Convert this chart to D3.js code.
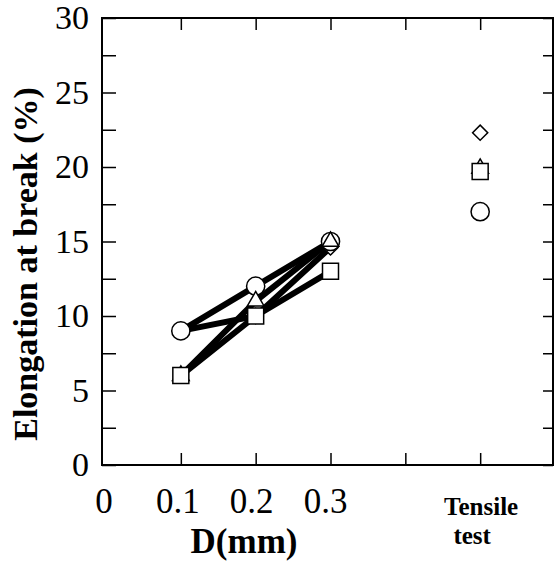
<!DOCTYPE html>
<html lang="en">
<head>
    <meta charset="UTF-8">
    <title>Elongation at break</title>
    <script src="https://d3js.org/d3.v7.min.js"></script>
    <style>
        body { margin: 0; background: #fff; }
        text { font-family: "Liberation Serif", "Times New Roman", serif; fill: #000; }
    </style>
</head>
<body>
    <script>
        // elongation at break vs D, plus tensile test values on the right
        var w = 554;
        var h = 562;

        var xValues = [0.1, 0.2, 0.3];
        var tensileX = 0.5;
        var xTickValues = [0.1, 0.2, 0.3, 0.4, 0.5];
        var xTickLabels = ['0', '0.1', '0.2', '0.3'];
        var yTickValues = [0, 5, 10, 15, 20, 25, 30];

        // series, last value is the tensile test
        var circleVals = [9, 12, 15, 17];
        var diamondVals = [9, 10, 14.6, 22.3];
        var triangleVals = [6, 11, 15, 19.9];
        var squareVals = [6, 10, 13, 19.7];

        // frame edges (note: "top" is taken by window.top)
        var frameL = 102, frameR = 553, frameT = 18, frameB = 465;

        var xScale = d3.scaleLinear()
                       .domain([0, 0.6])
                       .range([frameL + 4, frameR + 2]);

        var yScale = d3.scaleLinear()
                       .domain([0, 30])
                       .range([frameB, frameT]);

        var svg = d3.select('body')
                    .append('svg')
                    .attr('width', w)
                    .attr('height', h);

        // frame
        svg.append('rect')
           .attr('x', frameL)
           .attr('y', frameT)
           .attr('width', frameR - frameL)
           .attr('height', frameB - frameT)
           .attr('fill', 'none')
           .attr('stroke', '#000')
           .attr('stroke-width', 2);

        // left axis, ticks every 2.5, labels every 5
        var yAxis = d3.axisLeft(yScale)
                      .tickValues(d3.range(0, 30.1, 2.5))
                      .tickSizeInner(-14)
                      .tickSizeOuter(0)
                      .tickPadding(13)
                      .tickFormat(function(d) {
                          return yTickValues.indexOf(d) >= 0 ? d : '';
                      });

        var gy = svg.append('g')
                    .attr('transform', 'translate(' + frameL + ',0)')
                    .call(yAxis);
        gy.select('.domain').remove();
        gy.selectAll('line').attr('stroke-width', 1.5);
        gy.selectAll('text')
          .attr('font-size', 34)
          .attr('font-family', '"Liberation Serif", serif');

        // right axis, inward ticks
        var yAxisR = d3.axisRight(yScale)
                       .tickValues(d3.range(0, 30.1, 2.5))
                       .tickSizeInner(-10)
                       .tickSizeOuter(0)
                       .tickFormat('');
        var gyr = svg.append('g')
                     .attr('transform', 'translate(' + frameR + ',0)')
                     .call(yAxisR);
        gyr.select('.domain').remove();
        gyr.selectAll('line').attr('stroke-width', 1.5);

        // bottom and top ticks
        var xAxis = d3.axisBottom(xScale)
                      .tickValues(xTickValues)
                      .tickSizeInner(-12)
                      .tickSizeOuter(0)
                      .tickFormat('');
        var gx = svg.append('g')
                    .attr('transform', 'translate(0,' + frameB + ')')
                    .call(xAxis);
        gx.select('.domain').remove();
        gx.selectAll('line').attr('stroke-width', 1.5);

        var xAxisTop = d3.axisTop(xScale)
                         .tickValues(xTickValues)
                         .tickSizeInner(-12)
                         .tickSizeOuter(0)
                         .tickFormat('');
        var gxt = svg.append('g')
                     .attr('transform', 'translate(0,' + frameT + ')')
                     .call(xAxisTop);
        gxt.select('.domain').remove();
        gxt.selectAll('line').attr('stroke-width', 1.5);

        // x tick labels
        svg.selectAll('.xlabel')
           .data(xTickLabels)
           .enter()
           .append('text')
           .attr('class', 'xlabel')
           .attr('x', function(d) {
               return xScale(+d) - 2 - 10 * (+d);
           })
           .attr('y', 513)
           .attr('text-anchor', 'middle')
           .attr('font-size', 35)
           .text(function(d) { return d; });

        svg.append('text')
           .attr('x', xScale(tensileX) + 1)
           .attr('y', 515)
           .attr('text-anchor', 'middle')
           .attr('font-size', 25)
           .attr('font-weight', 'bold')
           .text('Tensile');

        svg.append('text')
           .attr('x', xScale(tensileX) - 8)
           .attr('y', 544)
           .attr('text-anchor', 'middle')
           .attr('font-size', 25)
           .attr('font-weight', 'bold')
           .text('test');

        svg.append('text')
           .attr('x', 244)
           .attr('y', 553)
           .attr('text-anchor', 'middle')
           .attr('font-size', 35)
           .attr('font-weight', 'bold')
           .text('D(mm)');

        svg.append('text')
           .attr('transform', 'translate(37,264) rotate(-90)')
           .attr('text-anchor', 'middle')
           .attr('font-size', 34)
           .attr('font-weight', 'bold')
           .text('Elongation at break (%)');

        // lines over the D values
        var line = d3.line()
                     .x(function(d, i) { return xScale(xValues[i]); })
                     .y(function(d) { return yScale(d); });

        // drawing order matters: later markers cover earlier ones
        var series = [
            { vals: diamondVals, symbol: d3.symbolSquare, size: 115, rot: 45 },
            { vals: circleVals, symbol: d3.symbolCircle, size: 260, rot: 0 },
            { vals: triangleVals, symbol: d3.symbolTriangle, size: 120, rot: 0 },
            { vals: squareVals, symbol: d3.symbolSquare, size: 256, rot: 0 }
        ];

        svg.selectAll('.line')
           .data(series)
           .enter()
           .append('path')
           .attr('class', 'line')
           .attr('d', function(d) { return line(d.vals.slice(0, 3)); })
           .attr('fill', 'none')
           .attr('stroke', '#000')
           .attr('stroke-width', 6)
           .attr('stroke-linejoin', 'round');

        series.forEach(function(s) {
            var pts = s.vals.map(function(v, i) {
                return { x: i < 3 ? xValues[i] : tensileX, y: v };
            });
            svg.selectAll(null)
               .data(pts)
               .enter()
               .append('path')
               .attr('d', d3.symbol().type(s.symbol).size(s.size))
               .attr('transform', function(d) {
                   return 'translate(' + xScale(d.x) + ',' + yScale(d.y) + ') rotate(' + s.rot + ')';
               })
               .attr('fill', '#fff')
               .attr('stroke', '#000')
               .attr('stroke-width', 1.5);
        });
    </script>
</body>
</html>
